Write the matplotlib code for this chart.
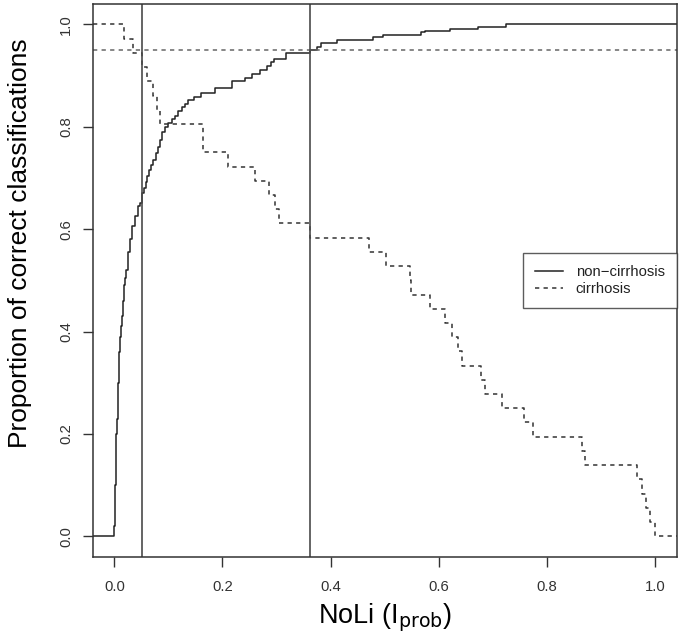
import numpy as np
import matplotlib
matplotlib.use("Agg")
import matplotlib.pyplot as plt

# ---- DATA ----
# non-cirrhosis: proportion correctly classified vs NoLi threshold (step function)
noncirr_x = [-0.04, 0.000, 0.001, 0.002, 0.003, 0.004, 0.005, 0.006, 0.007, 0.008,
             0.0095, 0.011, 0.0125, 0.014, 0.016, 0.018, 0.020, 0.022,
             0.025, 0.029, 0.033, 0.038, 0.043, 0.047, 0.052, 0.055, 0.058, 0.061,
             0.064, 0.067, 0.072, 0.077, 0.081, 0.085, 0.089, 0.093, 0.100, 0.106,
             0.112, 0.118, 0.125, 0.131, 0.137, 0.148, 0.160, 0.186, 0.217, 0.241,
             0.254, 0.269, 0.283, 0.290, 0.295, 0.317, 0.361, 0.374, 0.383, 0.411,
             0.478, 0.497, 0.567, 0.574, 0.620, 0.672, 0.724, 1.04]
noncirr_y = [0.0, 0.02, 0.06, 0.10, 0.15, 0.20, 0.23, 0.27, 0.30, 0.33,
             0.36, 0.39, 0.41, 0.43, 0.46, 0.49, 0.505, 0.52,
             0.555, 0.58, 0.606, 0.625, 0.645, 0.652, 0.67, 0.68, 0.693, 0.703,
             0.715, 0.725, 0.735, 0.748, 0.76, 0.775, 0.79, 0.80, 0.808, 0.815,
             0.822, 0.83, 0.838, 0.845, 0.852, 0.858, 0.866, 0.876, 0.889, 0.896,
             0.903, 0.911, 0.919, 0.926, 0.933, 0.945, 0.950, 0.955, 0.963, 0.970,
             0.976, 0.979, 0.985, 0.988, 0.992, 0.995, 1.0, 1.0]

# cirrhosis: number correct out of 36 patients
n_cirr = 36
cirr_x = [-0.04, 0.018, 0.034, 0.052, 0.060, 0.072, 0.079, 0.084, 0.164, 0.210,
          0.260, 0.286, 0.298, 0.305, 0.361, 0.471, 0.502, 0.546, 0.549, 0.583,
          0.612, 0.625, 0.636, 0.643, 0.678, 0.686, 0.717, 0.757, 0.775, 0.864,
          0.871, 0.966, 0.976, 0.983, 0.990, 1.000, 1.04]
cirr_k = [36, 35, 34, 33, 32, 31, 30, 29, 27, 26,
          25, 24, 23, 22, 21, 20, 19, 18, 17, 16,
          15, 14, 13, 12, 11, 10, 9, 8, 7, 6,
          5, 4, 3, 2, 1, 0, 0]

cutoffs = [0.052, 0.362]
target_level = 0.95

x_ticks = [0.0, 0.2, 0.4, 0.6, 0.8, 1.0]
y_ticks = [0.0, 0.2, 0.4, 0.6, 0.8, 1.0]

# ---- STYLE ----
plt.rcParams['font.family'] = ['Liberation Sans', 'DejaVu Sans']
plt.rcParams['mathtext.default'] = 'regular'
plt.rcParams['lines.scale_dashes'] = True

fig = plt.figure(figsize=(6.83, 6.42), dpi=100)
ax = fig.add_axes([0.1357, 0.1329, 0.8551, 0.8609])

cirr_y = np.array(cirr_k) / n_cirr

ax.plot(noncirr_x, noncirr_y, drawstyle='steps-post', color='#222222',
        lw=1.1, label='non\u2212cirrhosis')
ax.plot(cirr_x, cirr_y, drawstyle='steps-post', color='#333333',
        lw=1.1, linestyle=(0, (2.8, 2.8)), label='cirrhosis')

ax.axhline(target_level, color='#666666', lw=1.1, linestyle=(0, (2.8, 2.8)))
for c in cutoffs:
    ax.axvline(c, color='#4a4a4a', lw=1.2)

ax.set_xlim(-0.04, 1.04)
ax.set_ylim(-0.04, 1.04)
ax.set_xticks(x_ticks)
ax.set_yticks(y_ticks)
ax.set_xticklabels([f"{v:.1f}" for v in x_ticks])
ax.set_yticklabels([f"{v:.1f}" for v in y_ticks], rotation=90, va='center')

ax.tick_params(axis='x', length=7, width=1, colors='#333333', pad=10,
               labelsize=10.7, labelcolor='#333333')
ax.tick_params(axis='y', length=7, width=1, colors='#333333', pad=7,
               labelsize=10.7, labelcolor='#333333')
for s in ax.spines.values():
    s.set_color('#333333')
    s.set_linewidth(1.1)

ax.set_xlabel(r'NoLi (I$_{\mathrm{prob}}$)', fontsize=19.5, labelpad=5)
ax.set_ylabel('Proportion of correct classifications', fontsize=19)
ax.yaxis.set_label_coords(-0.104, 0.568)

leg = ax.legend(loc='center right', bbox_to_anchor=(1.0, 0.5), borderaxespad=0,
                fontsize=10.7, frameon=True, fancybox=False, handlelength=1.9,
                handletextpad=0.85, labelspacing=0.2, borderpad=0.8)
leg.get_frame().set_edgecolor('#333333')
leg.get_frame().set_linewidth(1.0)
for t in leg.get_texts():
    t.set_color('#222222')

fig.savefig('out.png', dpi=100, facecolor='white')
